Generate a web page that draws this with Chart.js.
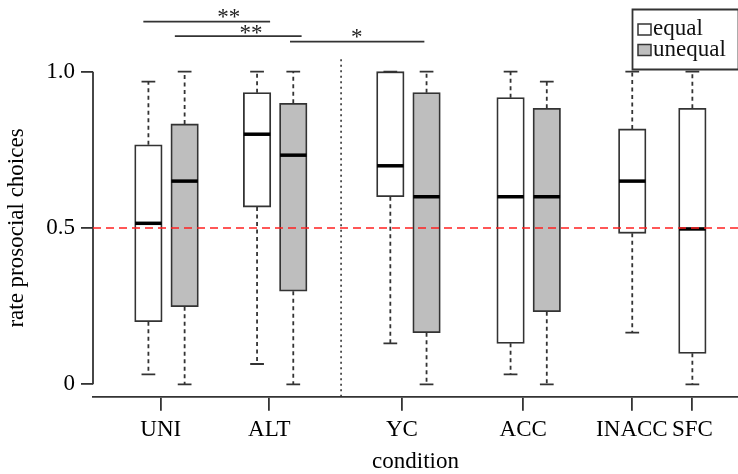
<!DOCTYPE html>
<html>
<head>
<meta charset="utf-8">
<script src="https://cdn.jsdelivr.net/npm/chart.js@4.4.1/dist/chart.umd.min.js"></script>
<style>
  html, body { margin: 0; padding: 0; background: #fff; }
  #wrap { width: 738px; height: 474px; }
</style>
</head>
<body>
<div id="wrap"><canvas id="chart" width="738" height="474"></canvas></div>
<script>
// conditions on the x axis and where their labels sit
const conditions = ['UNI', 'ALT', 'YC', 'ACC', 'INACC', 'SFC'];
const conditionTicks = [1.34, 4.34, 8.0, 11.35, 14.35, 16.02];

// y axis ticks
const yTicks = [0, 0.5, 1.0];
const yTickLabels = ['0', '0.5', '1.0'];

// equal distribution boxes
const equalPos = [1, 4, 7.68, 11, 14.36, 16.02];
const equalMin = [0.032, 0.065, 0.131, 0.032, 0.165, 0];
const equalQ1 = [0.200, 0.567, 0.600, 0.131, 0.483, 0.099];
const equalMed = [0.515, 0.800, 0.699, 0.600, 0.650, 0.497];
const equalQ3 = [0.766, 0.933, 1.0, 0.917, 0.817, 0.883];
const equalMax = [0.968, 1, 1, 1, 1, 1];

// unequal distribution boxes
const unequalPos = [2, 5, 8.68, 12];
const unequalMin = [0, 0, 0, 0];
const unequalQ1 = [0.248, 0.298, 0.165, 0.232];
const unequalMed = [0.650, 0.733, 0.600, 0.600];
const unequalQ3 = [0.833, 0.899, 0.933, 0.883];
const unequalMax = [1, 1, 1, 0.968];

// chance level and divider
const chanceLevel = 0.5;
const dividerPos = 6.32;

// significance brackets
const sigFrom = [0.86, 1.73, 4.91];
const sigTo = [4.36, 5.23, 8.62];
const sigLevel = [1.160, 1.114, 1.096];
const sigStars = ['**', '**', '*'];
const sigStarX = [3.22, 3.83, 6.75];
const sigStarY = [1.153, 1.103, 1.089];

const FONT = 'Liberation Serif, Times New Roman, serif';
const INK = '#333333';
const LW = 1.8;
const BOX_W = 27.5;

function boxSet(pos, min, q1, med, q3, max) {
  return pos.map((p, i) => ({x: p, y: [q1[i], q3[i]], min: min[i], med: med[i], max: max[i]}));
}

// whiskers, medians, chance line, divider, brackets
const boxExtras = {
  id: 'boxExtras',
  afterDatasetsDraw(chart) {
    const {ctx, chartArea, scales: {x, y}} = chart;
    const half = BOX_W / 2;
    ctx.save();

    chart.data.datasets.forEach((ds) => {
      ds.data.forEach((d) => {
        const cx = x.getPixelForValue(d.x);
        // whiskers
        ctx.strokeStyle = INK;
        ctx.lineWidth = LW;
        ctx.setLineDash([4, 3.5]);
        ctx.beginPath();
        ctx.moveTo(cx, y.getPixelForValue(d.y[1]));
        ctx.lineTo(cx, y.getPixelForValue(d.max));
        ctx.moveTo(cx, y.getPixelForValue(d.y[0]));
        ctx.lineTo(cx, y.getPixelForValue(d.min));
        ctx.stroke();
        // caps
        ctx.setLineDash([]);
        ctx.beginPath();
        ctx.moveTo(cx - half / 2, y.getPixelForValue(d.max));
        ctx.lineTo(cx + half / 2, y.getPixelForValue(d.max));
        ctx.moveTo(cx - half / 2, y.getPixelForValue(d.min));
        ctx.lineTo(cx + half / 2, y.getPixelForValue(d.min));
        ctx.stroke();
        // median
        ctx.strokeStyle = '#000';
        ctx.lineWidth = 3.5;
        ctx.beginPath();
        ctx.moveTo(cx - half + 0.5, y.getPixelForValue(d.med));
        ctx.lineTo(cx + half - 0.5, y.getPixelForValue(d.med));
        ctx.stroke();
      });
    });

    // y axis line, only from 0 to 1
    ctx.strokeStyle = INK;
    ctx.lineWidth = LW;
    ctx.beginPath();
    ctx.moveTo(chartArea.left, y.getPixelForValue(yTicks[0]));
    ctx.lineTo(chartArea.left, y.getPixelForValue(yTicks[yTicks.length - 1]));
    ctx.stroke();

    // dotted divider
    ctx.lineWidth = 1.6;
    ctx.setLineDash([2, 3.5]);
    const dx = x.getPixelForValue(dividerPos);
    ctx.beginPath();
    ctx.moveTo(dx, chartArea.top);
    ctx.lineTo(dx, chartArea.bottom);
    ctx.stroke();

    // chance level
    ctx.strokeStyle = '#ff2020';
    ctx.lineWidth = 1.6;
    ctx.setLineDash([8, 5]);
    const cy = y.getPixelForValue(chanceLevel);
    ctx.beginPath();
    ctx.moveTo(chartArea.left, cy);
    ctx.lineTo(chartArea.right, cy);
    ctx.stroke();
    ctx.setLineDash([]);

    // significance brackets
    ctx.strokeStyle = INK;
    ctx.lineWidth = LW;
    ctx.fillStyle = '#222';
    ctx.font = '23px ' + FONT;
    ctx.textAlign = 'center';
    ctx.textBaseline = 'alphabetic';
    sigFrom.forEach((from, i) => {
      const ly = y.getPixelForValue(sigLevel[i]);
      ctx.beginPath();
      ctx.moveTo(x.getPixelForValue(from), ly);
      ctx.lineTo(x.getPixelForValue(sigTo[i]), ly);
      ctx.stroke();
      ctx.fillText(sigStars[i], x.getPixelForValue(sigStarX[i]), y.getPixelForValue(sigStarY[i]));
    });
    ctx.restore();
  },
  afterDraw(chart) {
    // legend box in the top right corner
    const {ctx} = chart;
    ctx.save();
    ctx.strokeStyle = INK;
    ctx.lineWidth = LW;
    ctx.fillStyle = '#fff';
    ctx.beginPath();
    ctx.rect(632.5, 9.5, 106, 60);
    ctx.fill();
    ctx.stroke();
    ctx.font = '23px ' + FONT;
    ctx.textAlign = 'left';
    ctx.textBaseline = 'alphabetic';
    chart.data.datasets.forEach((ds, i) => {
      const top = 24 + i * 20.5;
      ctx.fillStyle = ds.backgroundColor;
      ctx.fillRect(638, top, 13, 11);
      ctx.strokeStyle = INK;
      ctx.lineWidth = 1.5;
      ctx.strokeRect(638, top, 13, 11);
      ctx.fillStyle = '#111';
      ctx.fillText(ds.label, 653, top + 11);
    });
    ctx.restore();
  },
};

new Chart(document.getElementById('chart'), {
  type: 'bar',
  data: {
    datasets: [
      {
        label: 'equal',
        data: boxSet(equalPos, equalMin, equalQ1, equalMed, equalQ3, equalMax),
        backgroundColor: '#ffffff',
        borderColor: INK,
        borderWidth: LW,
        borderSkipped: false,
        barThickness: BOX_W,
        grouped: false,
      },
      {
        label: 'unequal',
        data: boxSet(unequalPos, unequalMin, unequalQ1, unequalMed, unequalQ3, unequalMax),
        backgroundColor: '#bebebe',
        borderColor: INK,
        borderWidth: LW,
        borderSkipped: false,
        barThickness: BOX_W,
        grouped: false,
      },
    ],
  },
  options: {
    responsive: false,
    animation: false,
    devicePixelRatio: 1,
    layout: {padding: {top: 59.2, left: 0, right: 0, bottom: 0}},
    plugins: {
      legend: {display: false},
      tooltip: {enabled: false},
    },
    scales: {
      x: {
        type: 'linear',
        min: -0.53,
        max: 17.28,
        offset: false,
        afterFit: (scale) => { scale.height = 77.2; },
        afterBuildTicks: (scale) => {
          scale.ticks = conditionTicks.map((v) => ({value: v}));
        },
        grid: {
          offset: false,
          drawOnChartArea: false,
          drawTicks: true,
          tickLength: 14,
          color: INK,
          lineWidth: LW,
        },
        border: {display: true, color: INK, width: LW},
        ticks: {
          autoSkip: false,
          maxRotation: 0,
          padding: 5,
          color: '#000',
          font: {family: FONT, size: 23},
          callback: (v, i) => conditions[i],
        },
        title: {
          display: true,
          text: 'condition',
          color: '#000',
          font: {family: FONT, size: 23, lineHeight: 1},
          padding: {top: 0, bottom: 0.5},
        },
      },
      y: {
        min: -0.04,
        max: 1.04,
        afterFit: (scale) => { scale.width = 93; },
        afterBuildTicks: (scale) => {
          scale.ticks = yTicks.map((v) => ({value: v}));
        },
        grid: {
          drawOnChartArea: false,
          drawTicks: true,
          tickLength: 12,
          color: INK,
          lineWidth: LW,
        },
        border: {display: false},
        ticks: {
          padding: 6,
          color: '#000',
          font: {family: FONT, size: 23},
          callback: (v, i) => yTickLabels[i],
        },
        title: {
          display: true,
          text: 'rate prosocial choices',
          color: '#000',
          font: {family: FONT, size: 23, lineHeight: 1},
          padding: {top: 5, bottom: 0},
        },
      },
    },
  },
  plugins: [boxExtras],
});
</script>
</body>
</html>
